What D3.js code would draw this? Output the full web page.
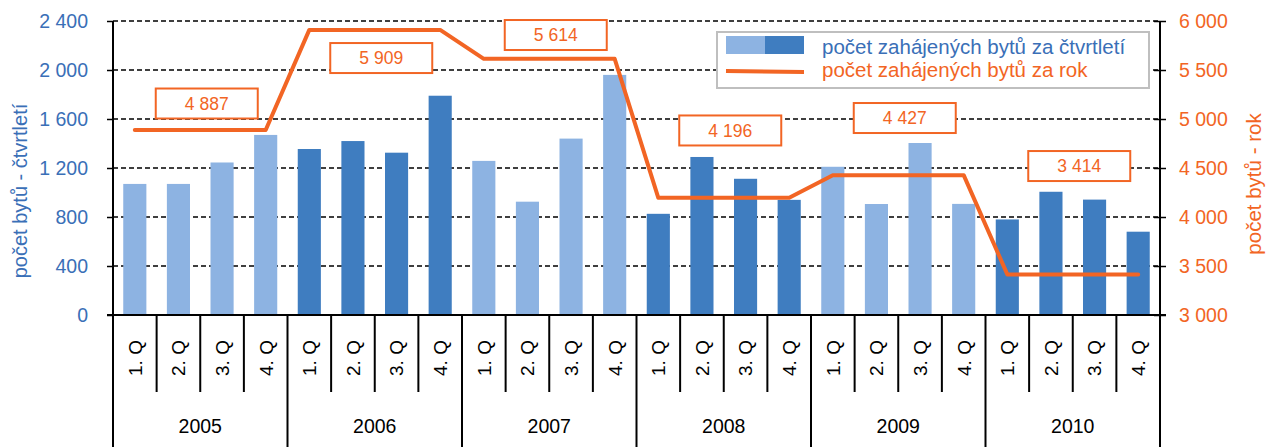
<!DOCTYPE html>
<html>
<head>
<meta charset="utf-8">
<script src="https://cdnjs.cloudflare.com/ajax/libs/d3/7.8.5/d3.min.js"></script>
<style>
  body { margin: 0; background: #fff; }
  text { font-family: "Liberation Sans", Arial, sans-serif; }
</style>
</head>
<body>
<svg id="chart"></svg>
<script>
// data
var years = ["2005", "2006", "2007", "2008", "2009", "2010"];
var quarters = ["1. Q", "2. Q", "3. Q", "4. Q"];
var quarterly = [
  1070, 1070, 1245, 1470,
  1355, 1420, 1325, 1790,
  1258, 925, 1440, 1960,
  826, 1290, 1112, 940,
  1210, 906, 1404, 907,
  780, 1006, 942, 680
];
var annual = [4887, 5909, 5614, 4196, 4427, 3414];
var leftTicks = [0, 400, 800, 1200, 1600, 2000, 2400];
var rightTicks = [3000, 3500, 4000, 4500, 5000, 5500, 6000];
// where each value box sits, in right-axis units
var labelAnchor = [5158, 5622, 5857, 4883, 5010, 4520];

var width = 1266,
    height = 447;
var margin = {top: 21, right: 106, bottom: 132, left: 113},
    innerwidth = width - margin.left - margin.right,
    innerheight = height - margin.top - margin.bottom;

var lightBlue = "#8DB3E2",
    darkBlue = "#3F7DC0",
    orange = "#F26524",
    blueText = "#3A6FB7";

var fmt = function(v) { return d3.format(",")(v).replace(/,/g, "\u00a0"); };

var svg = d3.select("#chart").attr("width", width).attr("height", height);
var g = svg.append("g").attr("transform", "translate(" + margin.left + "," + margin.top + ")");

var cats = d3.range(quarterly.length);
var x = d3.scaleBand().domain(cats).range([0, innerwidth]).paddingInner(0.47).paddingOuter(0.235);
var yL = d3.scaleLinear().domain([0, 2400]).range([innerheight, 0]);
var yR = d3.scaleLinear().domain([3000, 6000]).range([innerheight, 0]);

// gridlines
g.append("g")
  .selectAll("line")
  .data(leftTicks.slice(1))
  .join("line")
  .attr("x1", 0).attr("x2", innerwidth)
  .attr("y1", function(d) { return yL(d); })
  .attr("y2", function(d) { return yL(d); })
  .attr("stroke", "#000")
  .attr("stroke-width", 1.5)
  .attr("stroke-dasharray", "5,3");

// bars
g.append("g")
  .selectAll("rect")
  .data(quarterly)
  .join("rect")
  .attr("x", function(d, i) { return x(i); })
  .attr("width", x.bandwidth())
  .attr("y", function(d) { return yL(d); })
  .attr("height", function(d) { return innerheight - yL(d); })
  .attr("fill", function(d, i) { return Math.floor(i / 4) % 2 ? darkBlue : lightBlue; });

// annual line
var linePts = cats.map(function(i) { return [x(i) + x.bandwidth() / 2, yR(annual[Math.floor(i / 4)])]; });
g.append("path")
  .attr("d", d3.line()(linePts))
  .attr("fill", "none")
  .attr("stroke", orange)
  .attr("stroke-width", 4)
  .attr("stroke-linejoin", "round")
  .attr("stroke-linecap", "round");

// value boxes
var step = x.step();
var boxes = g.append("g").selectAll("g")
  .data(annual)
  .join("g")
  .attr("transform", function(d, i) {
    return "translate(" + (step * (i * 4 + 2) + 6.5) + "," + yR(labelAnchor[i]) + ")";
  });
boxes.append("rect")
  .attr("x", -51).attr("y", -15).attr("width", 102).attr("height", 30)
  .attr("fill", "#fff").attr("stroke", orange).attr("stroke-width", 2);
boxes.append("text")
  .attr("text-anchor", "middle").attr("dy", "0.36em")
  .attr("font-size", 17.5).attr("fill", orange)
  .text(function(d) { return fmt(d); });

// left axis
var axL = g.append("g")
  .call(d3.axisLeft(yL).tickValues(leftTicks).tickSize(6).tickPadding(19).tickFormat(fmt));
axL.select(".domain").remove();
axL.selectAll(".tick line").attr("stroke", "#000").attr("stroke-width", 1.5);
axL.selectAll(".tick text").attr("fill", blueText).attr("font-size", 19.5)
  .style("font-family", "'Liberation Sans', Arial, sans-serif");

// right axis
var axR = g.append("g").attr("transform", "translate(" + innerwidth + ",0)")
  .call(d3.axisRight(yR).tickValues(rightTicks).tickSize(6).tickPadding(13).tickFormat(fmt));
axR.select(".domain").remove();
axR.selectAll(".tick line").attr("stroke", "#000").attr("stroke-width", 1.5).attr("x1", -6);
axR.selectAll(".tick text").attr("fill", orange).attr("font-size", 19.5)
  .style("font-family", "'Liberation Sans', Arial, sans-serif");

// axis lines and category table
var bottom = height - margin.top;
g.append("line").attr("x1", 0).attr("x2", 0).attr("y1", 0).attr("y2", bottom)
  .attr("stroke", "#000").attr("stroke-width", 2);
g.append("line").attr("x1", innerwidth).attr("x2", innerwidth).attr("y1", 0).attr("y2", bottom)
  .attr("stroke", "#000").attr("stroke-width", 2);
g.append("line").attr("x1", -6).attr("x2", innerwidth + 6).attr("y1", innerheight).attr("y2", innerheight)
  .attr("stroke", "#000").attr("stroke-width", 2);

var qRow = 77;
g.append("g").selectAll("line")
  .data(d3.range(1, quarterly.length))
  .join("line")
  .attr("x1", function(d) { return d * step; })
  .attr("x2", function(d) { return d * step; })
  .attr("y1", innerheight)
  .attr("y2", function(d) { return d % 4 ? innerheight + qRow : bottom; })
  .attr("stroke", "#000").attr("stroke-width", 2);

g.append("g").selectAll("text")
  .data(cats)
  .join("text")
  .attr("transform", function(d) {
    return "translate(" + (x(d) + x.bandwidth() / 2) + "," + (innerheight + 43) + ") rotate(-90)";
  })
  .attr("text-anchor", "middle").attr("dy", "0.36em")
  .attr("font-size", 19).attr("fill", "#000")
  .text(function(d) { return quarters[d % 4]; });

g.append("g").selectAll("text")
  .data(years)
  .join("text")
  .attr("x", function(d, i) { return step * (i * 4 + 2); })
  .attr("y", innerheight + 118)
  .attr("text-anchor", "middle")
  .attr("font-size", 19.5).attr("fill", "#000")
  .text(function(d) { return d; });

// axis titles
svg.append("text")
  .attr("transform", "translate(27,191) rotate(-90)")
  .attr("text-anchor", "middle").attr("font-size", 20).attr("fill", blueText)
  .text("počet bytů - čtvrtletí");
svg.append("text")
  .attr("transform", "translate(1261,184) rotate(-90)")
  .attr("text-anchor", "middle").attr("font-size", 20.5).attr("fill", orange)
  .text("počet bytů - rok");

// legend
var lg = svg.append("g").attr("transform", "translate(717,32)");
lg.append("rect").attr("width", 432).attr("height", 56)
  .attr("fill", "#fff").attr("stroke", "#BFBFBF").attr("stroke-width", 2);
lg.append("rect").attr("x", 9).attr("y", 4).attr("width", 39).attr("height", 18).attr("fill", lightBlue);
lg.append("rect").attr("x", 48).attr("y", 4).attr("width", 39).attr("height", 18).attr("fill", darkBlue);
lg.append("line").attr("x1", 9).attr("x2", 87).attr("y1", 39).attr("y2", 40)
  .attr("stroke", orange).attr("stroke-width", 4);
lg.append("text").attr("x", 105).attr("y", 22).attr("font-size", 20.5).attr("fill", blueText)
  .text("počet zahájených bytů za čtvrtletí");
lg.append("text").attr("x", 105).attr("y", 45).attr("font-size", 20.5).attr("fill", orange)
  .text("počet zahájených bytů za rok");
</script>
</body>
</html>
